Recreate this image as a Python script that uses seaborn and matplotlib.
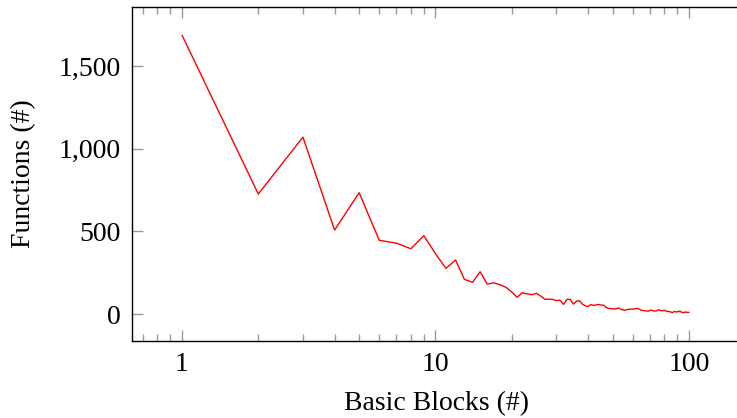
import seaborn as sns
import matplotlib.pyplot as plt
import matplotlib.ticker as mticker
import pandas as pd
import numpy as np

# basic blocks per function (x) and number of functions (y)
blocks = list(range(1, 101))
functions = [
    1687, 726, 1070, 508, 734, 446, 429, 395, 474, 365,
    276, 327, 210, 192, 256, 181, 189, 177, 161, 133,
    101, 129, 122, 117, 125, 109, 89, 90, 89, 81,
    84, 58, 89, 89, 60, 78, 81, 60, 49, 46,
    58, 52, 55, 58, 54, 54, 42, 34, 33, 32,
    30, 34, 36, 28, 25, 22, 28, 29, 30, 30,
    31, 33, 34, 28, 22, 22, 20, 19, 18, 21,
    24, 20, 18, 19, 22, 26, 22, 20, 21, 22,
    19, 16, 16, 14, 12, 8, 14, 16, 12, 14,
    16, 18, 13, 10, 8, 11, 12, 10, 11, 10,
]
y_ticks = [0, 500, 1000, 1500]
x_ticks = [1, 10, 100]

sns.set_style('ticks')
plt.rcParams['font.family'] = ['Liberation Serif', 'DejaVu Serif']
plt.rcParams['text.color'] = 'black'
plt.rcParams['axes.labelcolor'] = 'black'
plt.rcParams['xtick.labelcolor'] = 'black'
plt.rcParams['ytick.labelcolor'] = 'black'

df = pd.DataFrame({'blocks': blocks, 'functions': functions})

fig = plt.figure(figsize=(7.37, 4.18), dpi=100)
ax = fig.add_axes([132 / 737, 1 - 341 / 418, 608 / 737, 334 / 418])
sns.lineplot(data=df, x='blocks', y='functions', color='red', lw=1.0, ax=ax)

ax.set_xscale('log')
ax.set_xlim(0.635, 159)
ax.set_ylim(-163, 1857)
ax.set_xticks(x_ticks)
ax.xaxis.set_major_formatter(mticker.FuncFormatter(lambda v, p: f'{v:g}'))
ax.xaxis.set_minor_locator(mticker.LogLocator(base=10, subs=np.arange(2, 10)))
ax.xaxis.set_minor_formatter(mticker.NullFormatter())
ax.set_yticks(y_ticks)
ax.yaxis.set_major_formatter(mticker.FuncFormatter(lambda v, p: f'{int(v):,}'))

ax.tick_params(which='both', direction='in', top=True, right=False,
               color='#999999', width=1.0, labelsize=20, labelcolor='black')
ax.tick_params(which='major', length=8, pad=8)
ax.tick_params(which='minor', length=5)
ax.tick_params(axis='y', which='minor', left=False, right=False)
for sp in ax.spines.values():
    sp.set_color('black')
    sp.set_linewidth(1.0)

ax.set_xlabel('Basic Blocks (#)', fontsize=20, labelpad=10)
ax.set_ylabel('Functions (#)', fontsize=20, labelpad=16)

fig.savefig('out.png', dpi=100)
